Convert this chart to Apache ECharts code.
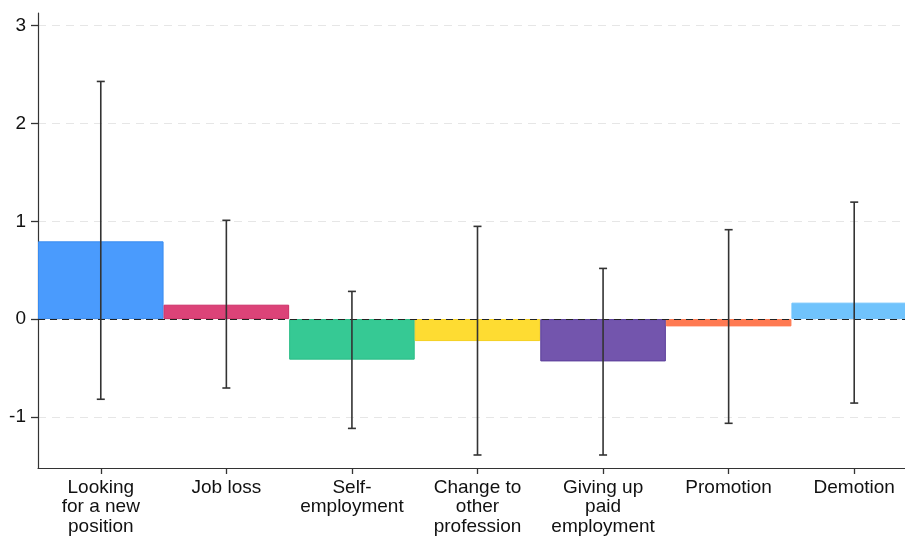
<!DOCTYPE html>
<html>
<head>
<meta charset="utf-8">
<script src="https://cdn.jsdelivr.net/npm/echarts@6/dist/echarts.min.js"></script>
<style>
  html, body { margin: 0; padding: 0; background: #fff; }
  #chart { width: 905px; height: 536px; }
</style>
</head>
<body>
<div id="chart"></div>
<script>
// categories and estimates
const categories = ['Looking\nfor a new\nposition', 'Job loss', 'Self-\nemployment', 'Change to\nother\nprofession',
  'Giving up\npaid\nemployment', 'Promotion', 'Demotion'];
const estimates = [0.795, 0.147, -0.415, -0.225, -0.433, -0.075, 0.168];
const ciLower = [-0.82, -0.705, -1.118, -1.39, -1.39, -1.066, -0.859];
const ciUpper = [2.43, 1.01, 0.283, 0.948, 0.518, 0.914, 1.196];
const yTicks = [-1, 0, 1, 2, 3];

const fills = ['#4a9bfd', '#dc4378', '#36c994', '#fedc32', '#7355ad', '#ff7a52', '#70c3fc'];
const borders = ['#3a8cf0', '#cc2e66', '#2bbd86', '#f5d020', '#5a3d9a', '#ff7a52', '#70c3fc'];

const chart = echarts.init(document.getElementById('chart'));

const barData = estimates.map((v, i) => ({
  value: v,
  itemStyle: { color: fills[i], borderColor: borders[i], borderWidth: 1 }
}));

const ciData = estimates.map((v, i) => [i, ciLower[i], ciUpper[i]]);

const option = {
  animation: false,
  textStyle: { fontFamily: 'Liberation Sans, Arial, sans-serif' },
  // the last category runs past the right edge of the canvas, as in the original
  grid: { left: 38, width: 879, top: 13, bottom: 68, outerBoundsMode: 'none' },
  xAxis: {
    type: 'category',
    data: categories,
    axisLine: { show: true, onZero: false, lineStyle: { color: '#333', width: 1.2 } },
    axisTick: { show: true, alignWithLabel: true, length: 6, lineStyle: { color: '#333', width: 1.3 } },
    axisLabel: { color: '#111', fontSize: 19, lineHeight: 19.5, margin: 10, interval: 0 }
  },
  yAxis: {
    type: 'value',
    min: -1.523,
    max: 3.13,
    axisLine: { show: true, onZero: false, lineStyle: { color: '#333', width: 1.2 } },
    axisTick: { show: true, length: 7, customValues: yTicks, lineStyle: { color: '#333', width: 1.3 } },
    axisLabel: { color: '#111', fontSize: 19, margin: 12, customValues: yTicks },
    splitLine: { show: true, lineStyle: { color: '#e6e6e6', type: [8, 6], width: 1 } }
  },
  series: [
    {
      type: 'bar',
      data: barData,
      barCategoryGap: 0,
      barWidth: '100%',
      markLine: {
        silent: true,
        symbol: 'none',
        label: { show: false },
        lineStyle: { color: '#222', type: [7, 5], width: 1 },
        data: [{ yAxis: 0 }],
        z: 5
      }
    },
    {
      type: 'custom',
      z: 10,
      data: ciData,
      renderItem: function (params, api) {
        const x = api.value(0);
        const lo = api.coord([x, api.value(1)]);
        const hi = api.coord([x, api.value(2)]);
        const cap = 4;
        const style = { stroke: '#333', lineWidth: 1.6 };
        return {
          type: 'group',
          children: [
            { type: 'line', shape: { x1: lo[0], y1: lo[1], x2: hi[0], y2: hi[1] }, style: style },
            { type: 'line', shape: { x1: lo[0] - cap, y1: lo[1], x2: lo[0] + cap, y2: lo[1] }, style: style },
            { type: 'line', shape: { x1: hi[0] - cap, y1: hi[1], x2: hi[0] + cap, y2: hi[1] }, style: style }
          ]
        };
      }
    }
  ]
};

chart.setOption(option);
</script>
</body>
</html>
